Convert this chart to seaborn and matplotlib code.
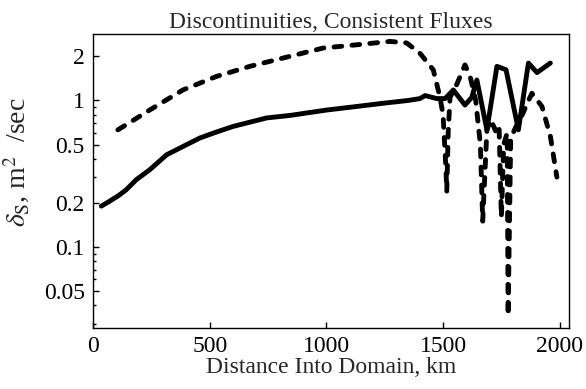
import numpy as np
import pandas as pd
import matplotlib
matplotlib.use("Agg")
import matplotlib.pyplot as plt
import seaborn as sns
from matplotlib.ticker import FixedLocator, LogLocator, NullFormatter, FixedFormatter

# Diffusivity along the domain, solid series
solid_km = [35, 70, 110, 142, 185, 242, 315, 385, 457, 530, 600, 744, 843, 1000,
            1130, 1250, 1350, 1401, 1423, 1473, 1509, 1544, 1594, 1623, 1645,
            1688, 1731, 1770, 1823, 1866, 1903, 1960]
solid_val = [0.19, 0.205, 0.225, 0.246, 0.288, 0.336, 0.426, 0.485, 0.554, 0.61,
             0.665, 0.76, 0.79, 0.86, 0.91, 0.96, 1.0, 1.03, 1.08, 1.03, 1.03,
             1.18, 0.93, 1.05, 1.38, 0.63, 1.71, 1.62, 0.63, 1.8, 1.55, 1.8]

# Diffusivity along the domain, dashed series
dash_km = [106, 242, 385, 529, 672, 815, 986, 1130, 1273, 1344, 1401, 1458, 1487,
           1500, 1512, 1516, 1522, 1530, 1560, 1594, 1616, 1640, 1660, 1670, 1688,
           1705, 1725, 1740, 1750, 1760, 1775, 1779, 1790, 1810, 1840, 1860, 1881,
           1924, 1960, 1988]
dash_val = [0.63, 0.86, 1.18, 1.46, 1.71, 1.95, 2.28, 2.4, 2.53, 2.47, 2.1, 1.62,
            1.05, 0.8, 0.35, 0.24, 0.6, 1.05, 1.3, 1.75, 1.46, 1.0, 0.5, 0.15,
            0.63, 0.74, 0.62, 0.68, 0.16, 0.5, 0.6, 0.034, 0.55, 0.65, 0.8, 0.95,
            1.12, 0.91, 0.57, 0.30]

y_ticks = [0.05, 0.1, 0.2, 0.5, 1, 2]
y_tick_labels = ["0.05", "0.1", "0.2", "0.5", "1", "2"]
x_ticks = [0, 500, 1000, 1500, 2000]

sns.set_theme(style="ticks")
plt.rcParams["font.family"] = ["Liberation Serif", "DejaVu Serif"]
plt.rcParams["mathtext.fontset"] = "stix"

fig = plt.figure(figsize=(5.86, 3.89), dpi=100)
ax = fig.add_axes([0.159, 0.157, 0.812, 0.756])

solid_df = pd.DataFrame({"km": solid_km, "val": solid_val})
dash_df = pd.DataFrame({"km": dash_km, "val": dash_val})

sns.lineplot(data=solid_df, x="km", y="val", ax=ax, color="black",
             linewidth=3.5, solid_joinstyle="round", solid_capstyle="round")
sns.lineplot(data=dash_df, x="km", y="val", ax=ax, color="black",
             linewidth=3.5, linestyle=(0, (1.6, 2.1)),
             dash_capstyle="round", dash_joinstyle="round")

ax.set_yscale("log")
ax.set_xlim(0, 2040)
ax.set_ylim(0.028, 2.85)

ax.yaxis.set_major_locator(FixedLocator(y_ticks))
ax.yaxis.set_major_formatter(FixedFormatter(y_tick_labels))
ax.yaxis.set_minor_locator(LogLocator(base=10, subs=np.arange(1, 10)))
ax.yaxis.set_minor_formatter(NullFormatter())
ax.set_xticks(x_ticks)
ax.set_xticklabels([str(v) for v in x_ticks])

ax.tick_params(axis="both", which="major", direction="in", length=4, width=1,
               labelsize=17, color="black", labelcolor="black", pad=6)
ax.tick_params(axis="y", which="minor", direction="in", length=2, width=1,
               color="black")

for s in ax.spines.values():
    s.set_visible(True)
    s.set_color("black")
    s.set_linewidth(1.0)

ax.set_title("Discontinuities, Consistent Fluxes", fontsize=17, pad=4)
ax.set_xlabel("Distance Into Domain, km", fontsize=17, labelpad=0)
ax.set_ylabel(r"$\delta_{\mathrm{S}}$, m$^{2}$  /sec", fontsize=20)
ax.yaxis.set_label_coords(-0.128, 0.565)

fig.savefig("out.png", dpi=100, facecolor="white")
